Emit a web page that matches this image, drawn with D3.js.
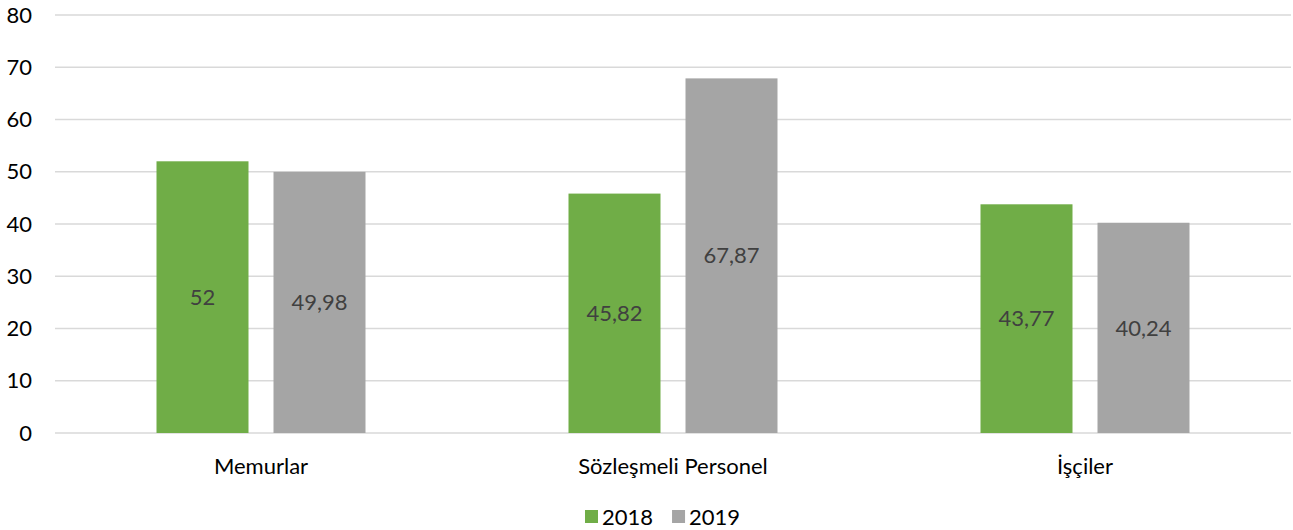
<!DOCTYPE html>
<html>
<head>
<meta charset="utf-8">
<script src="https://cdn.jsdelivr.net/npm/d3@7"></script>
<style>
  body { margin: 0; background: #fff; }
  svg { display: block; font-family: Lato, "Open Sans", sans-serif; }
</style>
</head>
<body>
<svg id="chart" width="1293" height="530"></svg>
<script>
var categories = ["Memurlar", "Sözleşmeli Personel", "İşçiler"];
var years = ["2018", "2019"];
var values2018 = [52, 45.82, 43.77];
var values2019 = [49.98, 67.87, 40.24];
var yTicks = [0, 10, 20, 30, 40, 50, 60, 70, 80];
var colors = ["#70ad47", "#a5a5a5"];

var svg = d3.select("#chart"),
  plotLeft = 55, plotRight = 1291, plotTop = 15, plotBottom = 433,
  fontSize = 22,
  fmt = function (v) { return String(v).replace(".", ","); };

var y = d3.scaleLinear().domain([0, 80]).range([plotBottom, plotTop]);
var x0 = d3.scaleBand().domain(categories).range([plotLeft, plotRight]);
var groupW = 209;
var x1 = d3.scaleBand().domain(years).range([0, groupW]).paddingInner(0.2137);
var color = d3.scaleOrdinal().domain(years).range(colors);

// grid
svg.append("g")
  .selectAll("line")
  .data(yTicks)
  .join("line")
    .attr("x1", plotLeft).attr("x2", plotRight)
    .attr("y1", function (d) { return y(d); })
    .attr("y2", function (d) { return y(d); })
    .attr("stroke", "#d9d9d9")
    .attr("stroke-width", 1.5);

svg.append("g")
  .selectAll("text")
  .data(yTicks)
  .join("text")
    .attr("x", 32)
    .attr("y", function (d) { return y(d); })
    .attr("dy", "0.35em")
    .attr("text-anchor", "end")
    .attr("font-size", fontSize)
    .attr("fill", "#000")
    .text(function (d) { return d; });

var rows = categories.map(function (c, i) {
  return { cat: c, vals: [
    { year: years[0], v: values2018[i] },
    { year: years[1], v: values2019[i] }
  ] };
});

var groups = svg.append("g")
  .selectAll("g")
  .data(rows)
  .join("g")
    .attr("transform", function (d) {
      return "translate(" + (x0(d.cat) + (x0.bandwidth() - groupW) / 2) + ",0)";
    });

groups.selectAll("rect")
  .data(function (d) { return d.vals; })
  .join("rect")
    .attr("x", function (d) { return x1(d.year); })
    .attr("width", x1.bandwidth())
    .attr("y", function (d) { return y(d.v); })
    .attr("height", function (d) { return plotBottom - y(d.v); })
    .attr("fill", function (d) { return color(d.year); });

groups.selectAll("text")
  .data(function (d) { return d.vals; })
  .join("text")
    .attr("x", function (d) { return x1(d.year) + x1.bandwidth() / 2; })
    .attr("y", function (d) { return y(d.v / 2); })
    .attr("dy", "0.35em")
    .attr("text-anchor", "middle")
    .attr("font-size", fontSize)
    .attr("fill", "#404040")
    .text(function (d) { return fmt(d.v); });

// category labels
svg.append("g")
  .selectAll("text")
  .data(categories)
  .join("text")
    .attr("x", function (d) { return x0(d) + x0.bandwidth() / 2; })
    .attr("y", 466)
    .attr("dy", "0.35em")
    .attr("text-anchor", "middle")
    .attr("font-size", fontSize)
    .attr("fill", "#000")
    .text(function (d) { return d; });

// legend
var legend = svg.append("g").attr("transform", "translate(585,0)");
var lx = 0;
years.forEach(function (yr) {
  legend.append("rect")
    .attr("x", lx).attr("y", 510)
    .attr("width", 13).attr("height", 13)
    .attr("fill", color(yr));
  var t = legend.append("text")
    .attr("x", lx + 17).attr("y", 517)
    .attr("dy", "0.35em")
    .attr("font-size", fontSize)
    .attr("fill", "#000")
    .text(yr);
  lx += 17 + t.node().getComputedTextLength() + 19;
});
</script>
</body>
</html>
